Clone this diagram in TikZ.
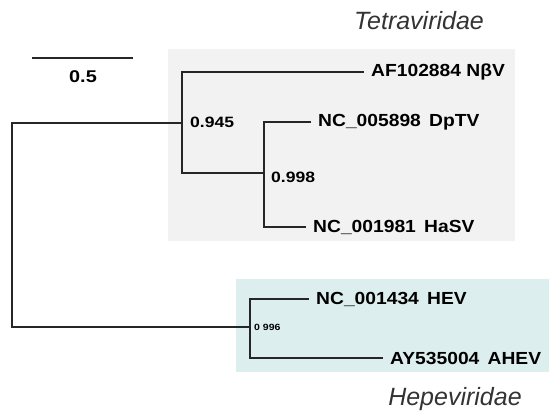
\documentclass[tikz,border=0pt]{standalone}
\usepackage{fontspec}
\setmainfont{Liberation Sans}
\newfontfamily\leaffont[FakeStretch=1.1]{Liberation Sans}
\newfontfamily\suppfont[FakeStretch=1.17]{Liberation Sans}
\usetikzlibrary{positioning}
\definecolor{tetrabg}{RGB}{242,242,242}
\definecolor{hepebg}{RGB}{221,238,238}
\tikzstyle{branch} = [-,line width=1.6pt,black!85]
\tikzstyle{leaf} = [anchor=west,inner sep=0pt,inner xsep=7pt,font=\leaffont\bfseries\fontsize{17.5}{18}\selectfont]
\tikzstyle{support} = [anchor=west,inner sep=0pt,font=\suppfont\bfseries\fontsize{15}{16}\selectfont]
\tikzstyle{family} = [anchor=base,inner sep=0pt,text=black!80,font=\itshape\fontsize{25}{26}\selectfont]
\def \lsep {7pt}

\begin{document}
\begin{tikzpicture}[x=1pt,y=-1pt]
      \useasboundingbox (0,0) rectangle (549,413);
      % clade boxes
      \fill[tetrabg] (168,49) rectangle (515,241);
      \fill[hepebg] (236,279) rectangle (549,372);
      % internal nodes
      \coordinate (root) at (12,225);
      \coordinate (n945) at (182,123);
      \coordinate (n998) at (264,173);
      \coordinate (n996) at (250,327);
      % leaves
      \node[leaf] (nbv) at (364,72) {AF102884 NβV};
      \node[leaf] (dptv) at (311,122) {NC\_005898 \,DpTV};
      \node[leaf] (hasv) at (306,227) {NC\_001981 \,HaSV};
      \node[leaf] (hev) at (309,299) {NC\_001434 \,HEV};
      \node[leaf] (ahev) at (383,358) {AY535004 \,AHEV};
      % branches
      \draw[branch] (n945) -| (root) |- (n996);
      \draw[branch] (nbv.west) -| (n945) |- (n998);
      \draw[branch] (dptv.west) -| (n998) |- (hasv.west);
      \draw[branch] (hev.west) -| (n996) |- (ahev.west);
      % support values
      \node[support,right=8pt of n945,yshift=1pt] (s945) {0.945};
      \node[support,right=\lsep of n998,yshift=-4pt] (s998) {0.998};
      \node[support,right=4pt of n996,font=\suppfont\bfseries\fontsize{9}{10}\selectfont] (s996) {0 996};
      % scale bar
      \coordinate (bar0) at (32,58);
      \coordinate (bar1) at (133,58);
      \draw[branch] (bar0) -- (bar1);
      \node[support,font=\suppfont\bfseries\fontsize{17}{18}\selectfont,anchor=center] (barlbl) at (83,77) {0.5};
      % families
      \node[family] (tetra) at (419,29) {Tetraviridae};
      \node[family] (hepe) at (455,405) {Hepeviridae};
\end{tikzpicture}
\end{document}
